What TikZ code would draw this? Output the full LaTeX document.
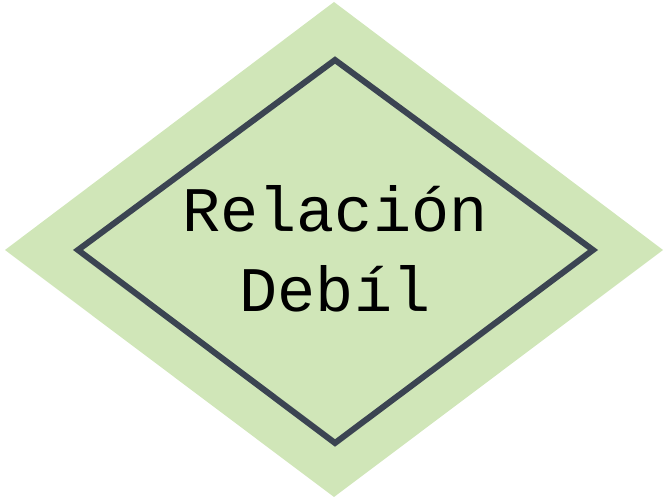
\documentclass[tikz,border=0pt]{standalone}
\usepackage{fontspec}
\newfontfamily\monofont{Liberation Mono}
\definecolor{fillgreen}{HTML}{D0E6B8}
\definecolor{edgegray}{HTML}{3B4452}
\tikzset{
  outerdia/.style={fill=fillgreen, draw=none},
  innerdia/.style={draw=edgegray, line width=6pt, line join=miter},
  lbl/.style={anchor=base, inner sep=0pt, text=black, font=\monofont\fontsize{63.5}{70}\selectfont}
}
\begin{document}
\begin{tikzpicture}[x=1pt,y=1pt]
\useasboundingbox (0,0) rectangle (667,498);
\coordinate (oL) at (5,248);
\coordinate (oT) at (334,496);
\coordinate (oR) at (663,248);
\coordinate (oB) at (334,1);
\fill[outerdia] (oL) -- (oT) -- (oR) -- (oB) -- cycle;
\coordinate (iL) at (78,248);
\coordinate (iT) at (335,438);
\coordinate (iR) at (593,248);
\coordinate (iB) at (335,55);
\draw[innerdia] (iL) -- (iT) -- (iR) -- (iB) -- cycle;
\node[lbl] (l1) at (335,266) {Relación};
\node[lbl] (l2) at (335,186) {Debíl};
\end{tikzpicture}
\end{document}
